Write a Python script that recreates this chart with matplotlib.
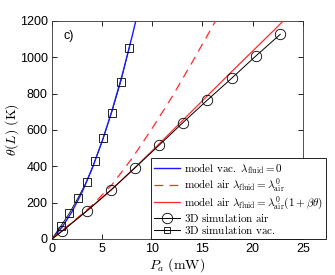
import numpy as np
import matplotlib
matplotlib.use('Agg')
import matplotlib.pyplot as plt

plt.rcParams['mathtext.fontset'] = 'cm'
plt.rcParams['font.family'] = ['Liberation Sans', 'DejaVu Sans']

# model curves
P_vac = [0, 1, 2, 3, 4, 5, 6, 7, 8, 8.4]
T_vac = [0, 64, 150, 257, 386, 537, 709, 902, 1118, 1210]

P_air0 = [0, 2, 4, 6, 8, 10, 12, 14, 16, 16.4]
T_air0 = [0, 90, 185, 300, 445, 610, 785, 975, 1170, 1210]

P_airT = [0, 2, 4, 6, 8, 10, 12, 14, 16, 18, 20, 22, 23.05]
T_airT = [0, 89, 179, 275, 378, 486, 596, 706, 816, 926, 1034, 1142, 1200]

# 3D simulation points
P_sim_air = [1.0, 3.5, 5.9, 8.3, 10.7, 13.05, 15.5, 17.9, 20.3, 22.75]
T_sim_air = [42, 155, 270, 393, 517, 640, 765, 884, 1006, 1126]

P_sim_vac = [0.9, 1.75, 2.6, 3.45, 4.28, 5.11, 5.94, 6.85, 7.7]
T_sim_vac = [72, 143, 226, 316, 429, 554, 695, 864, 1051]

fig = plt.figure(figsize=(3.35, 2.75), dpi=100)
ax = fig.add_axes([0.155, 0.131, 0.749, 0.793])

ax.plot([0] + P_sim_vac, [0] + T_sim_vac, '-', color='k', lw=0.6, zorder=2)
l1, = ax.plot(P_vac, T_vac, '-', color='#1a1aff', lw=1.0, zorder=3)
l2, = ax.plot(P_air0, T_air0, '--', color='#ff2a2a', lw=0.9, dashes=(7, 5), zorder=3)
l3, = ax.plot(P_airT, T_airT, '-', color='#ff2a2a', lw=0.9, zorder=3)
l4, = ax.plot([0] + P_sim_air, [0] + T_sim_air, '-', color='k', lw=0.7,
              marker='o', markevery=list(range(1, len(P_sim_air) + 1)),
              ms=7.5, mfc='none', mec='k', mew=0.6, zorder=4)
ax.plot(P_sim_vac, T_sim_vac, 's', ms=5.5, mfc='none', mec='k', mew=0.6, zorder=4)
l5, = ax.plot([], [], '-', color='k', lw=0.7, marker='s', ms=4.5,
              mfc='none', mec='k', mew=0.6)

ax.set_xlim(0, 25)
ax.set_ylim(0, 1200)
ax.set_xticks([0, 5, 10, 15, 20, 25])
ax.set_yticks([0, 200, 400, 600, 800, 1000, 1200])
ax.tick_params(direction='in', top=True, right=True, length=3.5, width=0.6,
               labelsize=9, pad=3)
for s in ax.spines.values():
    s.set_linewidth(0.6)
    s.set_color('#333333')

ax.set_xlabel(r'$P_a\ (\mathrm{mW})$', fontsize=10, labelpad=1)
ax.set_ylabel(r'$\theta(L)\ (\mathrm{K})$', fontsize=10)
ax.yaxis.set_label_coords(-0.125, 0.5)
ax.text(0.045, 0.93, 'c)', transform=ax.transAxes, fontsize=9, va='center')

labels = [r'$\mathrm{model\ vac.}\ \lambda_{\mathrm{fluid}}=0$',
          r'$\mathrm{model\ air}\ \lambda_{\mathrm{fluid}}=\lambda^0_{\mathrm{air}}$',
          r'$\mathrm{model\ air}\ \lambda_{\mathrm{fluid}}=\lambda^0_{\mathrm{air}}(1+\beta\theta)$',
          r'$\mathrm{3D\ simulation\ air}$',
          r'$\mathrm{3D\ simulation\ vac.}$']
leg = ax.legend([l1, l2, l3, l4, l5], labels, loc='upper left',
                bbox_to_anchor=(151 / 335, 1 - 158 / 275),
                bbox_transform=fig.transFigure, fontsize=8,
                frameon=True, fancybox=False, edgecolor='k', framealpha=1,
                borderaxespad=0, handlelength=2.4, handletextpad=0.35,
                labelspacing=0.05, borderpad=0.25)
leg.get_frame().set_linewidth(0.6)

fig.savefig('out.png', dpi=100)
